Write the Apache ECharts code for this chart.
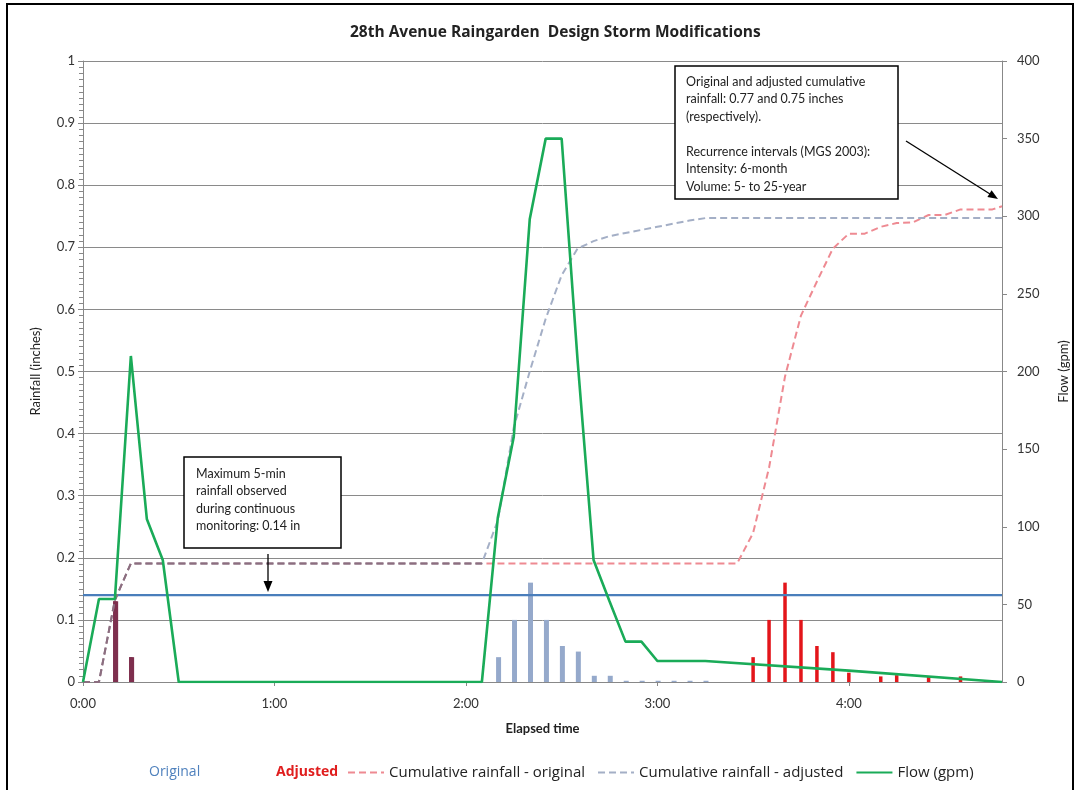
<!DOCTYPE html>
<html>
<head>
<meta charset="utf-8">
<script src="https://cdn.jsdelivr.net/npm/echarts@6/dist/echarts.min.js"></script>
<style>html,body{margin:0;padding:0;background:#fff}#c{width:1078px;height:790px}</style>
</head>
<body>
<div id="c"></div>
<script>
// ---- Data (minutes elapsed) ----
const titleText = '28th Avenue Raingarden  Design Storm Modifications';
const hourTicks = [0, 60, 120, 180, 240];
const xMax = 288;
const maxFiveMin = 0.14;

// Flow (gpm)
const flowTimes  = [0, 5, 10, 15, 20, 25, 30, 125, 130, 135, 140, 145, 150, 155, 160, 165, 170, 175, 180, 195, 240, 288];
const flowValues = [0, 53.5, 53.5, 210, 105, 78.6, 0, 0, 106, 158, 298, 350, 350, 207, 78.6, 52, 26, 26, 13.5, 13.5, 7.3, 0];

// 5-min rainfall bars
const origBarTimes  = [10, 15, 130, 135, 140, 145, 150, 155, 160, 165, 170, 175, 180, 185, 190, 195];
const origBarValues = [0.13, 0.04, 0.04, 0.10, 0.16, 0.10, 0.058, 0.049, 0.01, 0.01, 0.002, 0.002, 0.002, 0.002, 0.002, 0.002];
const adjBarTimes   = [10, 15, 210, 215, 220, 225, 230, 235, 240, 250, 255, 265, 275];
const adjBarValues  = [0.13, 0.04, 0.04, 0.10, 0.16, 0.10, 0.058, 0.048, 0.015, 0.009, 0.011, 0.009, 0.009];

// Cumulative rainfall (inches)
const cumOrigTimes  = [0, 5, 10, 15, 205, 210, 215, 220, 225, 230, 235, 240, 245, 250, 255, 260, 265, 270, 275, 280, 285, 288];
const cumOrigValues = [0, 0, 0.132, 0.191, 0.191, 0.24, 0.345, 0.492, 0.59, 0.645, 0.698, 0.722, 0.722, 0.733, 0.739, 0.740, 0.752, 0.752, 0.761, 0.761, 0.761, 0.766];
const cumAdjTimes   = [0, 5, 10, 15, 125, 130, 135, 140, 145, 150, 155, 160, 165, 170, 175, 180, 185, 190, 195, 288];
const cumAdjValues  = [0, 0, 0.132, 0.191, 0.191, 0.26, 0.41, 0.50, 0.585, 0.655, 0.698, 0.71, 0.718, 0.723, 0.728, 0.733, 0.738, 0.743, 0.747, 0.747];

// ---- Build ----
const pairs = (t, v) => t.map((x, i) => [x, v[i]]);
const shared = (t, v, ot, ov) => (i) => { const j = ot.indexOf(t[i]); return j >= 0 && ov[j] === v[i]; };
const origShared = shared(origBarTimes, origBarValues, adjBarTimes, adjBarValues);
const adjShared = shared(adjBarTimes, adjBarValues, origBarTimes, origBarValues);
// where the two cumulative curves coincide (drawn in a blended colour)
const overlapEnd = Math.min(cumAdjTimes[4], cumOrigTimes[4]);
const MAUVE = '#8c6e80', PINK = '#ee8a92', GREYBLUE = '#a4afc6';
function splitGrad(times, c) {
  const f = overlapEnd / (times[times.length - 1] - times[0]);
  return new echarts.graphic.LinearGradient(0, 0, 1, 0, [
    {offset: 0, color: MAUVE}, {offset: f, color: MAUVE}, {offset: f, color: c}, {offset: 1, color: c}]);
}

const FONT = 'Lato, "Open Sans", sans-serif';
const LFONT = '"Open Sans", Lato, sans-serif';
const txt = '#333';

const chart = echarts.init(document.getElementById('c'), null, {renderer: 'canvas'});
chart.setOption({
  animation: false,
  backgroundColor: '#fff',
  textStyle: {fontFamily: FONT},
  title: {text: titleText, left: 345, top: 20,
    textStyle: {fontFamily: LFONT, fontSize: 15.5, fontWeight: 'bold', color: '#222'}},
  grid: {left: 83, right: 71, top: 61, height: 621},
  xAxis: {
    type: 'value', min: 0, max: xMax,
    name: 'Elapsed time', nameLocation: 'middle', nameGap: 40,
    nameTextStyle: {fontFamily: FONT, fontSize: 13, fontWeight: 'bold', color: '#222'},
    axisLine: {show: true, lineStyle: {color: '#888', width: 1}},
    axisTick: {show: true, length: 4, lineStyle: {color: '#888'}, customValues: hourTicks},
    axisLabel: {customValues: hourTicks, margin: 15, fontSize: 13, color: txt, fontFamily: FONT,
      formatter: v => Math.floor(v / 60) + ':' + String(v % 60).padStart(2, '0')},
    splitLine: {show: false}
  },
  yAxis: [{
    type: 'value', min: 0, max: 1, interval: 0.1,
    name: 'Rainfall (inches)', nameLocation: 'middle', nameGap: 41,
    nameTextStyle: {fontFamily: FONT, fontSize: 13, color: '#222'},
    axisLine: {show: true, lineStyle: {color: '#888'}},
    axisTick: {show: true, length: 5, lineStyle: {color: '#888'}},
    minorTick: {show: true, splitNumber: 10, length: 4, lineStyle: {color: '#888', width: 1}},
    axisLabel: {margin: 8, fontSize: 13, color: txt, fontFamily: FONT},
    splitLine: {show: true, lineStyle: {color: '#8a8a8a', width: 1}}
  }, {
    type: 'value', min: 0, max: 400, interval: 50,
    name: 'Flow (gpm)', nameLocation: 'middle', nameGap: 55, nameRotate: 90,
    nameTextStyle: {fontFamily: FONT, fontSize: 13, color: '#222'},
    axisLine: {show: true, lineStyle: {color: '#888'}},
    axisTick: {show: true, length: 5, lineStyle: {color: '#888'}},
    axisLabel: {margin: 15, fontSize: 13, color: txt, fontFamily: FONT},
    splitLine: {show: false}
  }],
  legend: [
    {data: [{name: 'Original', textStyle: {color: '#4f81bd'}}], left: 139, top: 760,
      itemWidth: 0, itemHeight: 14, textStyle: {fontSize: 14, fontFamily: LFONT}},
    {data: [{name: 'Adjusted', textStyle: {color: '#e01e1e', fontWeight: 'bold'}}], left: 266, top: 760,
      itemWidth: 0, itemHeight: 14, textStyle: {fontSize: 14, fontFamily: LFONT}},
    {data: [
        {name: 'Cumulative rainfall - original', itemStyle: {opacity: 0}, lineStyle: {color: PINK}},
        {name: 'Cumulative rainfall - adjusted', itemStyle: {opacity: 0}, lineStyle: {color: GREYBLUE}},
        {name: 'Flow (gpm)', itemStyle: {opacity: 0}}],
      left: 342, top: 760, itemWidth: 36, itemHeight: 14, itemGap: 12,
      textStyle: {fontSize: 15, fontFamily: LFONT, color: '#222'}}
  ],
  series: [
    {name: 'Original', type: 'bar', data: pairs(origBarTimes, origBarValues), barWidth: 5, barGap: '-100%',
      itemStyle: {color: p => origShared(p.dataIndex) ? '#7e2f4e' : '#95a9cb'}, z: 3},
    {name: 'Adjusted', type: 'bar', data: pairs(adjBarTimes, adjBarValues), barWidth: 3.5, barGap: '-100%',
      itemStyle: {color: p => adjShared(p.dataIndex) ? '#7e2f4e' : '#e3151a'}, z: 3},
    {name: 'Max 5-min', type: 'line', data: [[0, maxFiveMin], [xMax, maxFiveMin]], symbol: 'none',
      lineStyle: {color: '#4a7ebb', width: 2.2}, z: 4, silent: true},
    {name: 'Cumulative rainfall - original', type: 'line', data: pairs(cumOrigTimes, cumOrigValues),
      symbol: 'none', itemStyle: {color: PINK},
      lineStyle: {color: splitGrad(cumOrigTimes, PINK), width: 2, type: [7, 4]}, z: 5},
    {name: 'Cumulative rainfall - adjusted', type: 'line', data: pairs(cumAdjTimes, cumAdjValues),
      symbol: 'none', itemStyle: {color: GREYBLUE},
      lineStyle: {color: splitGrad(cumAdjTimes, GREYBLUE), width: 2, type: [7, 4]}, z: 5},
    {name: 'Flow (gpm)', type: 'line', yAxisIndex: 1, data: pairs(flowTimes, flowValues),
      symbol: 'none', itemStyle: {color: '#1aab58'}, lineStyle: {color: '#1aab58', width: 2.6}, z: 6}
  ],
  graphic: [
    {type: 'rect', shape: {x: 7, y: 4, width: 1066, height: 800}, style: {fill: 'none', stroke: '#000', lineWidth: 2}, z: 100},
    // annotation 1
    {type: 'rect', shape: {x: 184, y: 457, width: 157, height: 91}, style: {fill: '#fff', stroke: '#000', lineWidth: 1.5}, z: 50},
    {type: 'text', left: 196, top: 465, z: 51, style: {
      text: 'Maximum 5-min\nrainfall observed\nduring continuous\nmonitoring: 0.14 in',
      font: '12.5px ' + FONT, fill: '#222', lineHeight: 17.5}},
    {type: 'line', shape: {x1: 268, y1: 554, x2: 268, y2: 583}, style: {stroke: '#000', lineWidth: 1.3}, z: 50},
    {type: 'polygon', shape: {points: [[268, 592], [263.5, 581], [272.5, 581]]}, style: {fill: '#000'}, z: 50},
    // annotation 2
    {type: 'rect', shape: {x: 675, y: 66, width: 223, height: 133}, style: {fill: '#fff', stroke: '#000', lineWidth: 1.5}, z: 50},
    {type: 'text', left: 686, top: 73, z: 51, style: {
      text: 'Original and adjusted cumulative\nrainfall: 0.77 and 0.75 inches\n(respectively).\n\nRecurrence intervals (MGS 2003):\nIntensity: 6-month\nVolume: 5- to 25-year',
      font: '12.5px ' + FONT, fill: '#222', lineHeight: 17.5}},
    {type: 'line', shape: {x1: 906, y1: 141, x2: 990, y2: 194}, style: {stroke: '#000', lineWidth: 1.3}, z: 50},
    {type: 'polygon', shape: {points: [[998, 199], [987.4, 197.1], [991.6, 190.3]]}, style: {fill: '#000'}, z: 50}
  ]
});
</script>
</body>
</html>
